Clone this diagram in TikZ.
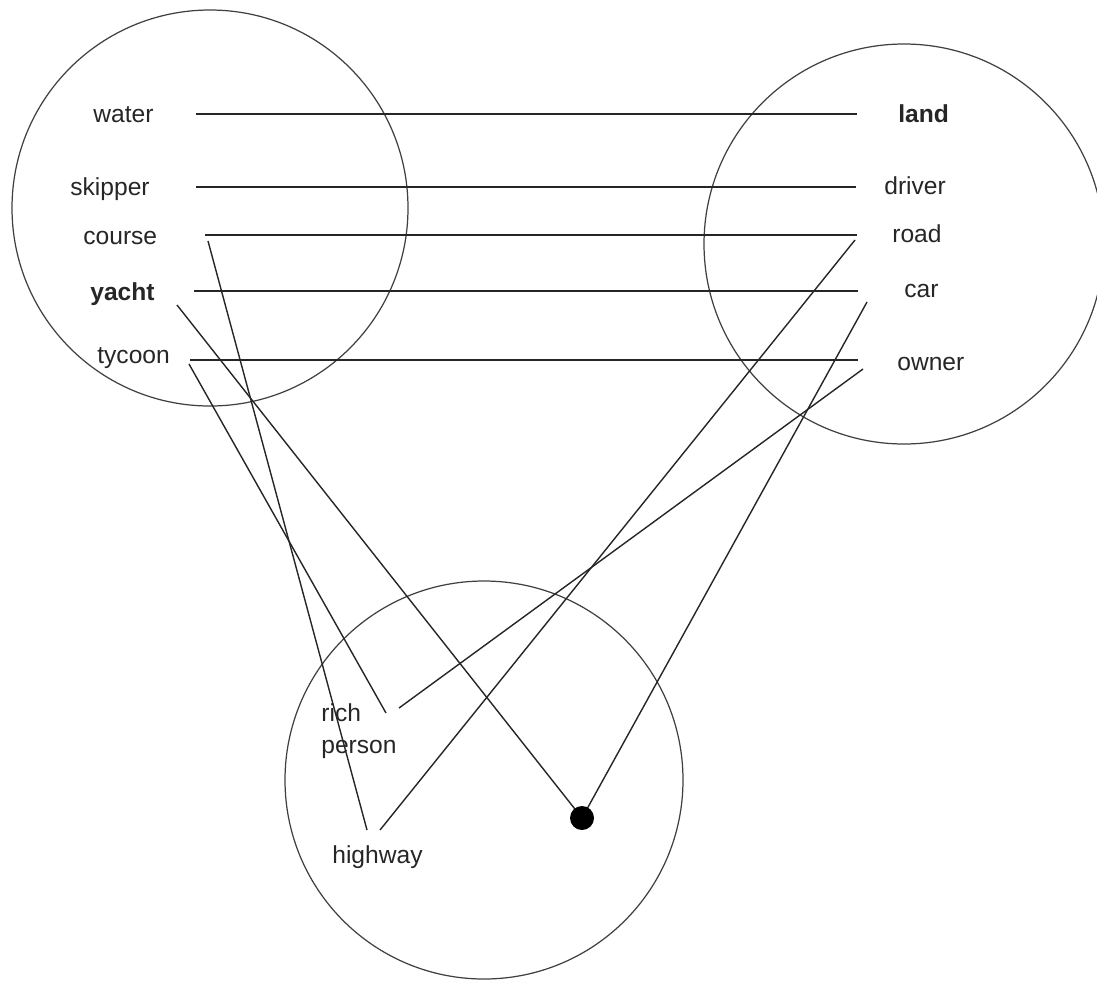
\documentclass[tikz,border=0pt]{standalone}
\usepackage{fontspec}
\setmainfont{Liberation Sans}
\begin{document}
\begin{tikzpicture}[
    x=0.02cm, y=-0.02cm,
    ring/.style={draw, line width=0.7pt, black!75},
    word/.style={font=\fontsize{14}{16}\selectfont, inner sep=0pt,
                 anchor=base west, text=black!85},
    link/.style={line width=0.8pt, black!85},
]
\useasboundingbox (0,0) rectangle (1097,981);

% the three domains
\draw[ring] (210,208) circle[radius=198];
\draw[ring] (904,244) circle[radius=200];
\draw[ring] (484,780) circle[radius=199];

% left words
\node[word] (water) at (93,122) {water};
\node[word] (skipper) at (70,195) {skipper};
\node[word] (course) at (83,244) {course};
\node[word, font=\fontsize{14}{16}\selectfont\bfseries] (yacht) at (90,300) {yacht};
\node[word] (tycoon) at (97,363) {tycoon};

% right words
\node[word, font=\fontsize{14}{16}\selectfont\bfseries] (land) at (898,122) {land};
\node[word] (driver) at (884,194) {driver};
\node[word] (road) at (892,242) {road};
\node[word] (car) at (904,297) {car};
\node[word] (owner) at (897,370) {owner};

% bottom words
\node[word] (rich) at (321,721) {rich};
\node[word] (person) at (321,753) {person};
\node[word] (highway) at (332,863) {highway};
\coordinate (dot) at (582,818);

% line ends
\coordinate (water-r) at (196,114);
\coordinate (land-l) at (857,114);
\coordinate (skipper-r) at (196,187);
\coordinate (driver-l) at (856,187);
\coordinate (course-r) at (205,235);
\coordinate (road-l) at (857,235);
\coordinate (yacht-r) at (194,291);
\coordinate (car-l) at (858,291);
\coordinate (tycoon-r) at (190,360);
\coordinate (owner-l) at (858,360);

\coordinate (course-d) at (208,241);
\coordinate (yacht-d) at (177,305);
\coordinate (tycoon-d) at (189,364);
\coordinate (road-d) at (855,240);
\coordinate (car-d) at (867,302);
\coordinate (owner-d) at (863,369);
\coordinate (rich-a) at (386,713);
\coordinate (rich-b) at (399,708);
\coordinate (highway-a) at (367,830);
\coordinate (highway-b) at (380,830);

\draw[link] (water-r) -- (land-l);
\draw[link] (skipper-r) -- (driver-l);
\draw[link] (course-r) -- (road-l);
\draw[link] (yacht-r) -- (car-l);
\draw[link] (tycoon-r) -- (owner-l);

\draw[link] (course-d) -- (highway-a);
\draw[link] (road-d) -- (highway-b);
\draw[link] (tycoon-d) -- (rich-a);
\draw[link] (owner-d) -- (rich-b);
\draw[link] (yacht-d) -- (dot);
\draw[link] (car-d) -- (dot);

\node[circle, fill, inner sep=0pt, minimum size=0.48cm] (blob) at (dot) {};

\end{tikzpicture}
\end{document}
